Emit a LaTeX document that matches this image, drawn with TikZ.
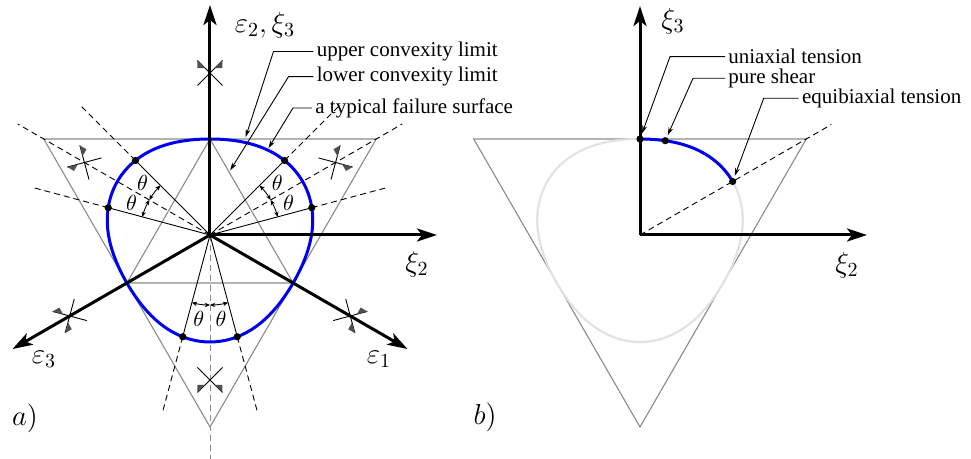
\documentclass[tikz,border=0pt]{standalone}
\usepackage[no-math]{fontspec}
\setmainfont{Liberation Serif}
\usetikzlibrary{arrows.meta, calc}
\definecolor{surfBlue}{HTML}{0000F0}
\definecolor{limitGray}{HTML}{8A8A8A}
\definecolor{ghostGray}{HTML}{E2E2E2}
\definecolor{markFill}{HTML}{505050}

% symmetry marker: #1 = direction, #2 = distance from the centre
\newcommand{\symmark}[2]{%
  \begin{scope}[shift={(#1:#2)}, rotate=#1-90]
    \draw[markline] (-12.5,-12.5) -- (12.5,12.5);
    \draw[markline] (12.5,-12.5) -- (-12.5,12.5);
    \fill[markFill] (12.5,12.5) -- (12.5,4.8) -- (4.8,4.8) -- cycle;
    \fill[markFill] (-12.5,12.5) -- (-12.5,4.8) -- (-4.8,4.8) -- cycle;
  \end{scope}}

\begin{document}
\begin{tikzpicture}[
    x=0.5pt, y=0.5pt,
    font=\fontsize{10.5}{12}\selectfont,
    declare function={rs(\t)=101.5+5.5*sin(3*\t);},
    limit/.style={draw=limitGray, line width=0.55pt},
    surf/.style={draw=surfBlue, line width=1.5pt},
    ghost/.style={draw=ghostGray, line width=1.1pt},
    axis/.style={
        -{Stealth[length=10pt,width=6.5pt,inset=2.5pt]},
        line width=1.5pt
    },
    ray/.style={line width=0.45pt},
    markline/.style={line width=0.45pt},
    guide/.style={line width=0.45pt, dash pattern=on 3pt off 2pt},
    anglearc/.style={
        {Stealth[length=2.6pt,width=2.2pt]}-{Stealth[length=2.6pt,width=2.2pt]},
        line width=0.45pt
    },
    leader/.style={
        -{Stealth[length=4pt,width=2.4pt]},
        line width=0.45pt, shorten >=1pt
    },
    dot/.style={circle, fill=black, inner sep=0pt, minimum size=3.6pt},
    axlabel/.style={font=\fontsize{14}{16}\selectfont},
    tag/.style={anchor=west, inner sep=1.5pt}
]
    \useasboundingbox (-210,-224) rectangle (761,235);

    % a) deviatoric plane
    \coordinate (Oa) at (0,0);
    \draw[limit] (150:192) -- (30:192) -- (270:192) -- cycle;
    \draw[limit] (90:96) -- (210:96) -- (330:96) -- cycle;

    \draw[guide] (Oa) -- (150:222);
    \draw[guide] (Oa) -- (30:222);
    \draw[guide, draw=limitGray] (Oa) -- (0,-224);

    \draw[surf] plot[domain=0:360, samples=181] (\x:{rs(\x)}) -- cycle;

    \draw[axis] (Oa) -- (0,230);
    \draw[axis] (Oa) -- (227,0);
    \draw[axis] (Oa) -- (330:228);
    \draw[axis] (Oa) -- (210:228);

    \foreach \a in {135,165,15,45,255,285} {
        \node[dot] (p\a) at (\a:{rs(\a)}) {};
        \draw[ray] (Oa) -- (p\a.center);
        \draw[guide] (p\a.center) -- (\a:183);
    }

    \foreach \a in {135,150,15,30,255,270}
        \draw[anglearc] (\a:70) arc[start angle=\a, end angle=\a+15, radius=70];
    \foreach \a [count=\i] in {142.5,157.5,22.5,37.5,262.5,277.5}
        \node (th\i) at (\a:85) {$\theta$};

    \foreach \a in {90,210,330} \symmark{\a}{162};
    \foreach \a in {30,150,270} \symmark{\a}{145};

    \node[axlabel] (e2lab) at (55,210) {$\varepsilon_2,\xi_3$};
    \node[axlabel] (x2lab) at (207,-29) {$\xi_2$};
    \node[axlabel] (e1lab) at (169,-124) {$\varepsilon_1$};
    \node[axlabel] (e3lab) at (-166,-124) {$\varepsilon_3$};
    \node[axlabel] (alab) at (-185,-183) {$a)$};

    \node[tag] (upper) at (103.5,183.5) {upper convexity limit};
    \node[tag] (lower) at (103.5,158.3) {lower convexity limit};
    \node[tag] (typical) at (102,127) {a typical failure surface};
    \coordinate (upperTip) at (35,96);
    \coordinate (lowerTip) at ($(90:96)!0.23!(330:96)$);
    \coordinate (typTip) at (56:{rs(56)});
    \draw[leader] (upper.west) -- ++(-40,0) -- (upperTip);
    \draw[leader] (lower.west) -- ++(-25,0) -- (lowerTip);
    \draw[leader] (typical.west) -- ++(-19,0) -- (typTip);

    % b) one sixth of the surface
    \begin{scope}[shift={(430,0)}]
        \coordinate (Ob) at (0,0);
        \draw[limit] (150:192) -- (30:192) -- (270:192) -- cycle;
        \draw[ghost] plot[domain=0:360, samples=181] (\x:{rs(\x)}) -- cycle;
        \draw[guide] (Ob) -- (30:221);
        \draw[surf] plot[domain=90:30, samples=31] (\x:{rs(\x)});

        \draw[axis] (Ob) -- (0,229);
        \draw[axis] (Ob) -- (227,0);

        \node[dot] (uni) at (90:{rs(90)}) {};
        \node[dot] (shear) at (75:{rs(75)}) {};
        \node[dot] (equi) at (30:{rs(30)}) {};

        \node[axlabel] (x3lab) at (33,214) {$\xi_3$};
        \node[axlabel] (x2blab) at (207,-30) {$\xi_2$};
        \node[axlabel] (blab) at (-155,-182) {$b)$};

        \node[tag] (unilab) at (85,178.3) {uniaxial tension};
        \node[tag] (shearlab) at (85,156.7) {pure shear};
        \node[tag] (equilab) at (158.7,136.7) {equibiaxial tension};
        \draw[leader] (unilab.west) -- ++(-55,0) -- (uni);
        \draw[leader] (shearlab.west) -- ++(-32,0) -- (shear);
        \draw[leader] (equilab.west) -- ++(-35,0) -- (equi);
    \end{scope}
\end{tikzpicture}
\end{document}
